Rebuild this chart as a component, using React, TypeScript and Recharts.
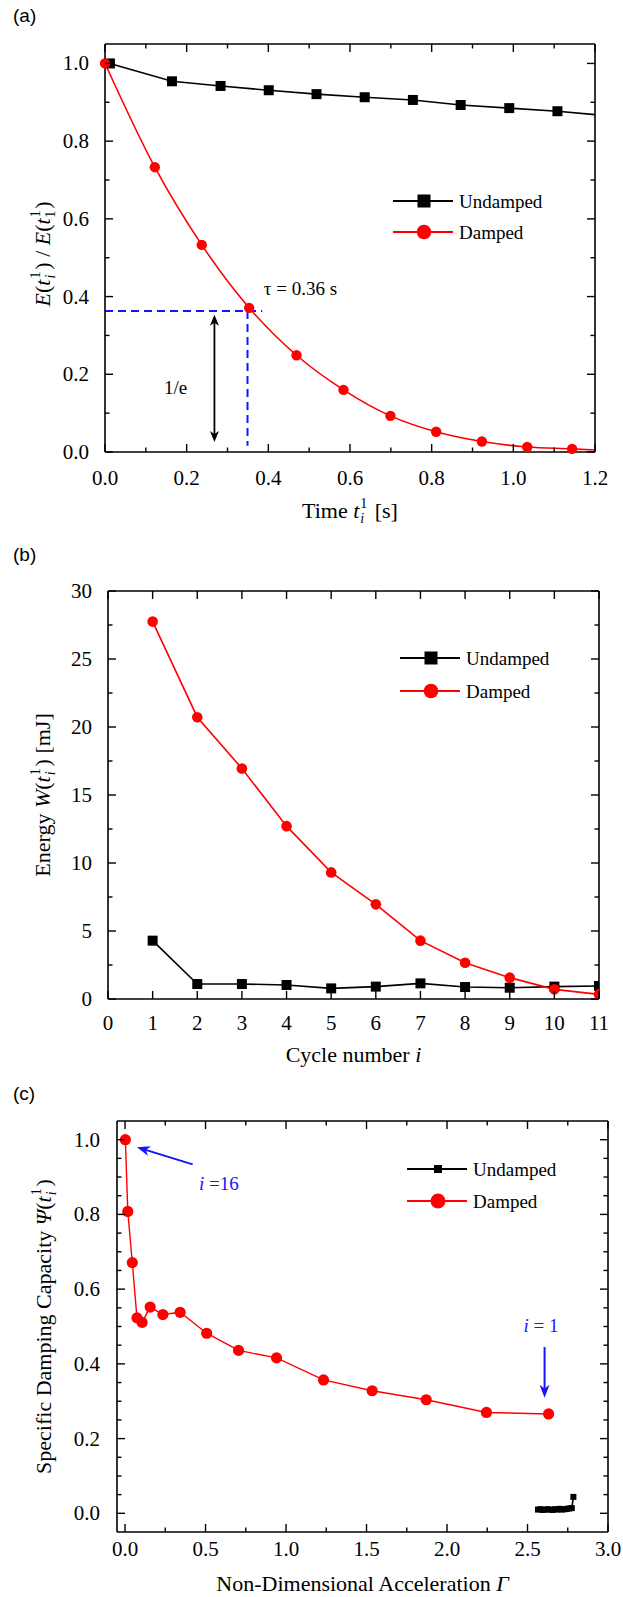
import React from "react";
import { LineChart, Line, XAxis, YAxis, Legend, ReferenceLine, ReferenceDot } from "recharts";

const SERIF = '"Liberation Serif", "Times New Roman", Times, serif';
const SANS = '"Liberation Sans", Arial, Helvetica, sans-serif';
const RED = "#ff0000";
const BLUE = "#1414ff";
const INK = "#000000";

// (a) normalised energy vs time
const aUndampedT = [0.012, 0.164, 0.283, 0.401, 0.518, 0.636, 0.754, 0.871, 0.99, 1.108, 1.225];
const aUndampedE = [1.0, 0.954, 0.942, 0.931, 0.921, 0.913, 0.906, 0.893, 0.885, 0.877, 0.866];
const aDampedT = [0.0, 0.122, 0.237, 0.353, 0.469, 0.584, 0.699, 0.811, 0.923, 1.034, 1.144, 1.255];
const aDampedE = [1.0, 0.733, 0.533, 0.371, 0.249, 0.16, 0.093, 0.052, 0.027, 0.013, 0.008, 0.002];
const aTicksX = [0, 0.1, 0.2, 0.3, 0.4, 0.5, 0.6, 0.7, 0.8, 0.9, 1.0, 1.1, 1.2];
const aLabelsX = [0, 0.2, 0.4, 0.6, 0.8, 1.0, 1.2];
const aTicksY = [0, 0.1, 0.2, 0.3, 0.4, 0.5, 0.6, 0.7, 0.8, 0.9, 1.0];
const aLabelsY = [0, 0.2, 0.4, 0.6, 0.8, 1.0];
const aTauLevel = 0.363; // 1/e level
const aTau = 0.349;
const aDashEnd = 0.385;
const aArrowX = 0.268;
const aArrowY = [0.026, 0.353];

// (b) energy per cycle
const bCycle = [1, 2, 3, 4, 5, 6, 7, 8, 9, 10, 11];
const bUndamped = [4.29, 1.1, 1.1, 1.03, 0.78, 0.91, 1.15, 0.88, 0.83, 0.91, 0.96];
const bDamped = [27.75, 20.72, 16.95, 12.71, 9.31, 6.96, 4.29, 2.67, 1.57, 0.71, 0.34];
const bTicksX = [0, 1, 2, 3, 4, 5, 6, 7, 8, 9, 10, 11];
const bTicksY = [0, 2.5, 5, 7.5, 10, 12.5, 15, 17.5, 20, 22.5, 25, 27.5, 30];
const bLabelsY = [0, 5, 10, 15, 20, 25, 30];

// (c) specific damping capacity vs acceleration
const cDampedG = [0.002, 0.017, 0.045, 0.074, 0.106, 0.156, 0.235, 0.342, 0.507, 0.705, 0.941, 1.233, 1.535, 1.871, 2.245, 2.631];
const cDampedPsi = [1.0, 0.808, 0.671, 0.523, 0.511, 0.552, 0.532, 0.538, 0.482, 0.436, 0.416, 0.357, 0.328, 0.304, 0.27, 0.266];
const cUndampedG = [2.565, 2.58, 2.595, 2.61, 2.625, 2.64, 2.655, 2.67, 2.685, 2.7, 2.715, 2.73, 2.745, 2.76, 2.775, 2.785];
const cUndampedPsi = [0.01, 0.011, 0.009, 0.01, 0.011, 0.01, 0.009, 0.011, 0.01, 0.012, 0.01, 0.011, 0.012, 0.013, 0.014, 0.044];
const cTicksX = [0, 0.25, 0.5, 0.75, 1.0, 1.25, 1.5, 1.75, 2.0, 2.25, 2.5, 2.75, 3.0];
const cLabelsX = [0, 0.5, 1.0, 1.5, 2.0, 2.5, 3.0];
const cTicksY = [0, 0.05, 0.1, 0.15, 0.2, 0.25, 0.3, 0.35, 0.4, 0.45, 0.5, 0.55, 0.6, 0.65, 0.7, 0.75, 0.8, 0.85, 0.9, 0.95, 1.0];
const cLabelsY = [0, 0.2, 0.4, 0.6, 0.8, 1.0];
const cArrow16 = [{ x: 0.42, y: 0.934 }, { x: 0.074, y: 0.98 }];
const cArrow1 = [{ x: 2.606, y: 0.445 }, { x: 2.606, y: 0.309 }];

const seriesOrder = ["Undamped", "Damped"];

const pts = (xs: number[], ys: number[]) => xs.map((x, i) => ({ x, y: ys[i] }));
const f1 = (v: number) => v.toFixed(1);
const f0 = (v: number) => String(v);

const TICK_FONT = 21;
const TITLE_FONT = 22;
const SCRIPT_FONT = 14;

// ticks drawn inward, with the mirrored tick on the opposite side of the frame
function frameTick(side: "bottom" | "left", labels: number[], fmt: (v: number) => string, span: number, gap: number) {
    return function FrameTick(props: any) {
        const { x, y, payload } = props;
        const v = Number(payload.value);
        const major = labels.some((l) => Math.abs(l - v) < 1e-6);
        const len = major ? 8 : 4.5;
        if (side === "bottom") {
            return (
                <g>
                    <line x1={x} x2={x} y1={y} y2={y - len} stroke={INK} strokeWidth={1.4} />
                    <line x1={x} x2={x} y1={y - span} y2={y - span + len} stroke={INK} strokeWidth={1.4} />
                    {major && (
                        <text x={x} y={y + gap} textAnchor="middle" fontFamily={SERIF} fontSize={TICK_FONT} fill={INK}>
                            {fmt(v)}
                        </text>
                    )}
                </g>
            );
        }
        return (
            <g>
                <line x1={x} x2={x + len} y1={y} y2={y} stroke={INK} strokeWidth={1.4} />
                <line x1={x + span} x2={x + span - len} y1={y} y2={y} stroke={INK} strokeWidth={1.4} />
                {major && (
                    <text x={x - gap} y={y + 7} textAnchor="end" fontFamily={SERIF} fontSize={TICK_FONT} fill={INK}>
                        {fmt(v)}
                    </text>
                )}
            </g>
        );
    };
}

function xTitle(children: React.ReactNode, below: number) {
    return (p: any) => {
        const vb = p.viewBox || {};
        return (
            <text x={vb.x + vb.width / 2} y={vb.y + below} textAnchor="middle" fontFamily={SERIF} fontSize={TITLE_FONT} fill={INK}>
                {children}
            </text>
        );
    };
}

function yTitle(children: React.ReactNode, baseX: number, shift: number) {
    return (p: any) => {
        const vb = p.viewBox || {};
        const cx = vb.x + baseX;
        const cy = vb.y + vb.height / 2 + shift;
        return (
            <text transform={`rotate(-90 ${cx} ${cy})`} x={cx} y={cy} textAnchor="middle" fontFamily={SERIF} fontSize={TITLE_FONT} fill={INK}>
                {children}
            </text>
        );
    };
}

// stacked superscript / subscript, e.g. t_i^1
function supSub(sup: string, sub: string, subItalic: boolean) {
    return [
        <tspan key="sup" fontSize={SCRIPT_FONT} dx={1} dy={-10}>{sup}</tspan>,
        <tspan key="sub" fontSize={SCRIPT_FONT} dx={-7} dy={15} fontStyle={subItalic ? "italic" : "normal"}>{sub}</tspan>,
    ];
}

function squareDot(size: number, color: string) {
    return (p: any) => {
        if (p.cx == null || p.cy == null) return <g key={p.index} />;
        return <rect key={p.index} x={p.cx - size / 2} y={p.cy - size / 2} width={size} height={size} fill={color} />;
    };
}

function arrowShape(color: string, both: boolean, head: number, half: number, width: number) {
    return (p: any) => {
        const { x1, y1, x2, y2 } = p;
        const dx = x2 - x1;
        const dy = y2 - y1;
        const len = Math.hypot(dx, dy) || 1;
        const ux = dx / len;
        const uy = dy / len;
        const nx = -uy;
        const ny = ux;
        const tipAt = (tx: number, ty: number, s: number) => {
            const bx = tx - s * ux * head;
            const by = ty - s * uy * head;
            const mx = tx - s * ux * head * 0.72;
            const my = ty - s * uy * head * 0.72;
            return `${tx},${ty} ${bx + nx * half},${by + ny * half} ${mx},${my} ${bx - nx * half},${by - ny * half}`;
        };
        const inset = head * 0.7;
        const sx = both ? x1 + ux * inset : x1;
        const sy = both ? y1 + uy * inset : y1;
        return (
            <g>
                <line x1={sx} y1={sy} x2={x2 - ux * inset} y2={y2 - uy * inset} stroke={color} strokeWidth={width} />
                <polygon points={tipAt(x2, y2, 1)} fill={color} />
                {both && <polygon points={tipAt(x1, y1, -1)} fill={color} />}
            </g>
        );
    };
}

function textMark(children: React.ReactNode, color: string, anchor: "start" | "middle", size = 19) {
    return (p: any) => (
        <text x={p.cx} y={p.cy + 6.5} textAnchor={anchor} fontFamily={SERIF} fontSize={size} fill={color}>
            {children}
        </text>
    );
}

type Marker = { shape: "square" | "circle"; size: number };

function legendContent(markers: Record<string, Marker>, rowGap: number) {
    return (props: any) => {
        const payload = [...(props.payload || [])].sort(
            (a: any, b: any) => seriesOrder.indexOf(a.value) - seriesOrder.indexOf(b.value)
        );
        return (
            <svg width={240} height={payload.length * rowGap + 10} style={{ display: "block", overflow: "visible" }}>
                {payload.map((e: any, i: number) => {
                    const cy = 14 + i * rowGap;
                    const m = markers[e.value];
                    return (
                        <g key={e.value}>
                            <line x1={0} x2={60} y1={cy} y2={cy} stroke={e.color} strokeWidth={1.8} />
                            {m.shape === "square" ? (
                                <rect x={31 - m.size / 2} y={cy - m.size / 2} width={m.size} height={m.size} fill={e.color} />
                            ) : (
                                <circle cx={31} cy={cy} r={m.size / 2} fill={e.color} />
                            )}
                            <text x={66} y={cy + 6.5} fontFamily={SERIF} fontSize={19} fill={INK}>
                                {e.value}
                            </text>
                        </g>
                    );
                })}
            </svg>
        );
    };
}

const frame = { stroke: INK, strokeWidth: 1.6 };

function PanelA() {
    const plotW = 490;
    const plotH = 408;
    return (
        <LineChart width={623} height={540} margin={{ top: 44, right: 28, bottom: 8, left: 0 }}>
            <XAxis xAxisId="b" type="number" dataKey="x" domain={[0, 1.2]} allowDataOverflow ticks={aTicksX} interval={0}
                height={80} tickSize={0} tickMargin={0} tickLine={false} axisLine={frame}
                tick={frameTick("bottom", aLabelsX, f1, plotH, 33)}
                label={xTitle(<>Time <tspan fontStyle="italic">t</tspan>{supSub("1", "i", true)}<tspan dy={-5} dx={5}> [s]</tspan></>, 66)} />
            <YAxis yAxisId="l" type="number" dataKey="y" domain={[0, 1.05]} ticks={aTicksY} interval={0}
                width={105} tickSize={0} tickMargin={0} tickLine={false} axisLine={frame}
                tick={frameTick("left", aLabelsY, f1, plotW, 16)}
                label={yTitle(<>
                    <tspan fontStyle="italic">E</tspan>(<tspan fontStyle="italic">t</tspan>{supSub("1", "i", true)}
                    <tspan dy={-5} dx={5}>) / </tspan><tspan fontStyle="italic">E</tspan>(<tspan fontStyle="italic">t</tspan>
                    {supSub("1", "1", false)}<tspan dy={-5} dx={2}>)</tspan>
                </>, 50, 6)} />
            <ReferenceLine xAxisId="b" yAxisId="l" y={1.05} stroke={INK} strokeWidth={1.6} />
            <ReferenceLine xAxisId="b" yAxisId="l" x={1.2} stroke={INK} strokeWidth={1.6} />
            <ReferenceLine xAxisId="b" yAxisId="l" segment={[{ x: 0, y: aTauLevel }, { x: aDashEnd, y: aTauLevel }]}
                stroke={BLUE} strokeWidth={2} strokeDasharray="8 5" />
            <ReferenceLine xAxisId="b" yAxisId="l" segment={[{ x: aTau, y: aTauLevel }, { x: aTau, y: 0.016 }]}
                stroke={BLUE} strokeWidth={2} strokeDasharray="8 5" />
            <ReferenceLine xAxisId="b" yAxisId="l" segment={[{ x: aArrowX, y: aArrowY[0] }, { x: aArrowX, y: aArrowY[1] }]}
                shape={arrowShape(INK, true, 11, 4.5, 1.8)} />
            <ReferenceDot xAxisId="b" yAxisId="l" x={0.173} y={0.165} r={0} shape={textMark("1/e", INK, "middle")} />
            <ReferenceDot xAxisId="b" yAxisId="l" x={0.389} y={0.42} r={0} shape={textMark("\u03c4 = 0.36 s", INK, "start")} />
            <Line xAxisId="b" yAxisId="l" name="Undamped" data={pts(aUndampedT, aUndampedE)} dataKey="y" stroke={INK}
                strokeWidth={1.6} dot={squareDot(10, INK)} isAnimationActive={false} />
            <Line xAxisId="b" yAxisId="l" name="Damped" type="monotone" data={pts(aDampedT, aDampedE)} dataKey="y" stroke={RED}
                strokeWidth={1.6} dot={{ r: 5.2, fill: RED, stroke: RED, strokeWidth: 0, clipDot: false }} isAnimationActive={false} />
            <Legend layout="horizontal" verticalAlign="middle" align="center"
                wrapperStyle={{ position: "absolute", left: 393, top: 187, width: 240, height: 80 }}
                content={legendContent({ Undamped: { shape: "square", size: 13 }, Damped: { shape: "circle", size: 14.5 } }, 31)} />
        </LineChart>
    );
}

function PanelB() {
    const plotW = 491;
    const plotH = 408;
    return (
        <LineChart width={623} height={530} margin={{ top: 51, right: 24, bottom: 1, left: 0 }}>
            <XAxis xAxisId="b" type="number" dataKey="x" domain={[0, 11]} allowDataOverflow ticks={bTicksX} interval={0}
                height={70} tickSize={0} tickMargin={0} tickLine={false} axisLine={frame}
                tick={frameTick("bottom", bTicksX, f0, plotH, 31)}
                label={xTitle(<>Cycle number <tspan fontStyle="italic">i</tspan></>, 63)} />
            <YAxis yAxisId="l" type="number" dataKey="y" domain={[0, 30]} ticks={bTicksY} interval={0}
                width={108} tickSize={0} tickMargin={0} tickLine={false} axisLine={frame}
                tick={frameTick("left", bLabelsY, f0, plotW, 16)}
                label={yTitle(<>Energy <tspan fontStyle="italic">W</tspan>(<tspan fontStyle="italic">t</tspan>{supSub("1", "i", true)}
                    <tspan dy={-5} dx={5}>) [mJ]</tspan></>, 50, 0)} />
            <ReferenceLine xAxisId="b" yAxisId="l" y={30} stroke={INK} strokeWidth={1.6} />
            <ReferenceLine xAxisId="b" yAxisId="l" x={11} stroke={INK} strokeWidth={1.6} />
            <Line xAxisId="b" yAxisId="l" name="Undamped" data={pts(bCycle, bUndamped)} dataKey="y" stroke={INK}
                strokeWidth={1.6} dot={squareDot(10, INK)} isAnimationActive={false} />
            <Line xAxisId="b" yAxisId="l" name="Damped" data={pts(bCycle, bDamped)} dataKey="y" stroke={RED}
                strokeWidth={1.6} dot={{ r: 5.3, fill: RED, stroke: RED, strokeWidth: 0 }} isAnimationActive={false} />
            <Legend layout="horizontal" verticalAlign="middle" align="center"
                wrapperStyle={{ position: "absolute", left: 400, top: 104, width: 240, height: 80 }}
                content={legendContent({ Undamped: { shape: "square", size: 13 }, Damped: { shape: "circle", size: 14.5 } }, 33)} />
        </LineChart>
    );
}

function PanelC() {
    const plotW = 491;
    const plotH = 411;
    return (
        <LineChart width={623} height={537} margin={{ top: 61, right: 15, bottom: 0, left: 0 }}>
            <XAxis xAxisId="b" type="number" dataKey="x" domain={[-0.05, 3.0]} allowDataOverflow ticks={cTicksX} interval={0}
                height={65} tickSize={0} tickMargin={0} tickLine={false} axisLine={frame}
                tick={frameTick("bottom", cLabelsX, f1, plotH, 24)}
                label={xTitle(<>Non-Dimensional Acceleration <tspan fontStyle="italic">{"\u0393"}</tspan></>, 59)} />
            <YAxis yAxisId="l" type="number" dataKey="y" domain={[-0.05, 1.05]} ticks={cTicksY} interval={0}
                width={117} tickSize={0} tickMargin={0} tickLine={false} axisLine={frame}
                tick={frameTick("left", cLabelsY, f1, plotW, 17)}
                label={yTitle(<>Specific Damping Capacity <tspan fontStyle="italic">{"\u03a8"}</tspan>(<tspan fontStyle="italic">t</tspan>
                    {supSub("1", "i", true)}<tspan dy={-5} dx={5}>)</tspan></>, 51, 0)} />
            <ReferenceLine xAxisId="b" yAxisId="l" y={1.05} stroke={INK} strokeWidth={1.6} />
            <ReferenceLine xAxisId="b" yAxisId="l" x={3.0} stroke={INK} strokeWidth={1.6} />
            <ReferenceLine xAxisId="b" yAxisId="l" segment={cArrow16} shape={arrowShape(BLUE, false, 13, 5, 2)} />
            <ReferenceLine xAxisId="b" yAxisId="l" segment={cArrow1} shape={arrowShape(BLUE, false, 13, 5, 2)} />
            <ReferenceDot xAxisId="b" yAxisId="l" x={0.459} y={0.884} r={0}
                shape={textMark(<><tspan fontStyle="italic">i</tspan> =16</>, BLUE, "start")} />
            <ReferenceDot xAxisId="b" yAxisId="l" x={2.475} y={0.504} r={0}
                shape={textMark(<><tspan fontStyle="italic">i</tspan> = 1</>, BLUE, "start")} />
            <Line xAxisId="b" yAxisId="l" name="Undamped" data={pts(cUndampedG, cUndampedPsi)} dataKey="y" stroke={INK}
                strokeWidth={1.6} dot={squareDot(6, INK)} isAnimationActive={false} />
            <Line xAxisId="b" yAxisId="l" name="Damped" data={pts(cDampedG, cDampedPsi)} dataKey="y" stroke={RED}
                strokeWidth={1.4} dot={{ r: 5.6, fill: RED, stroke: RED, strokeWidth: 0 }} isAnimationActive={false} />
            <Legend layout="horizontal" verticalAlign="middle" align="center"
                wrapperStyle={{ position: "absolute", left: 407, top: 95, width: 240, height: 80 }}
                content={legendContent({ Undamped: { shape: "square", size: 8 }, Damped: { shape: "circle", size: 15 } }, 32)} />
        </LineChart>
    );
}

function PanelLetter({ text, top }: { text: string; top: number }) {
    return (
        <div style={{ position: "absolute", left: 13, top, fontFamily: SANS, fontSize: 19, lineHeight: "22px", color: INK }}>
            {text}
        </div>
    );
}

export default function App() {
    return (
        <div style={{ position: "absolute", left: 0, top: 0, width: 623, height: 1597, background: "#fff", overflow: "hidden" }}>
            <div style={{ position: "absolute", left: 0, top: 0 }}>
                <PanelA />
            </div>
            <div style={{ position: "absolute", left: 0, top: 540 }}>
                <PanelB />
            </div>
            <div style={{ position: "absolute", left: 0, top: 1060 }}>
                <PanelC />
            </div>
            <PanelLetter text="(a)" top={5} />
            <PanelLetter text="(b)" top={544} />
            <PanelLetter text="(c)" top={1083} />
        </div>
    );
}
